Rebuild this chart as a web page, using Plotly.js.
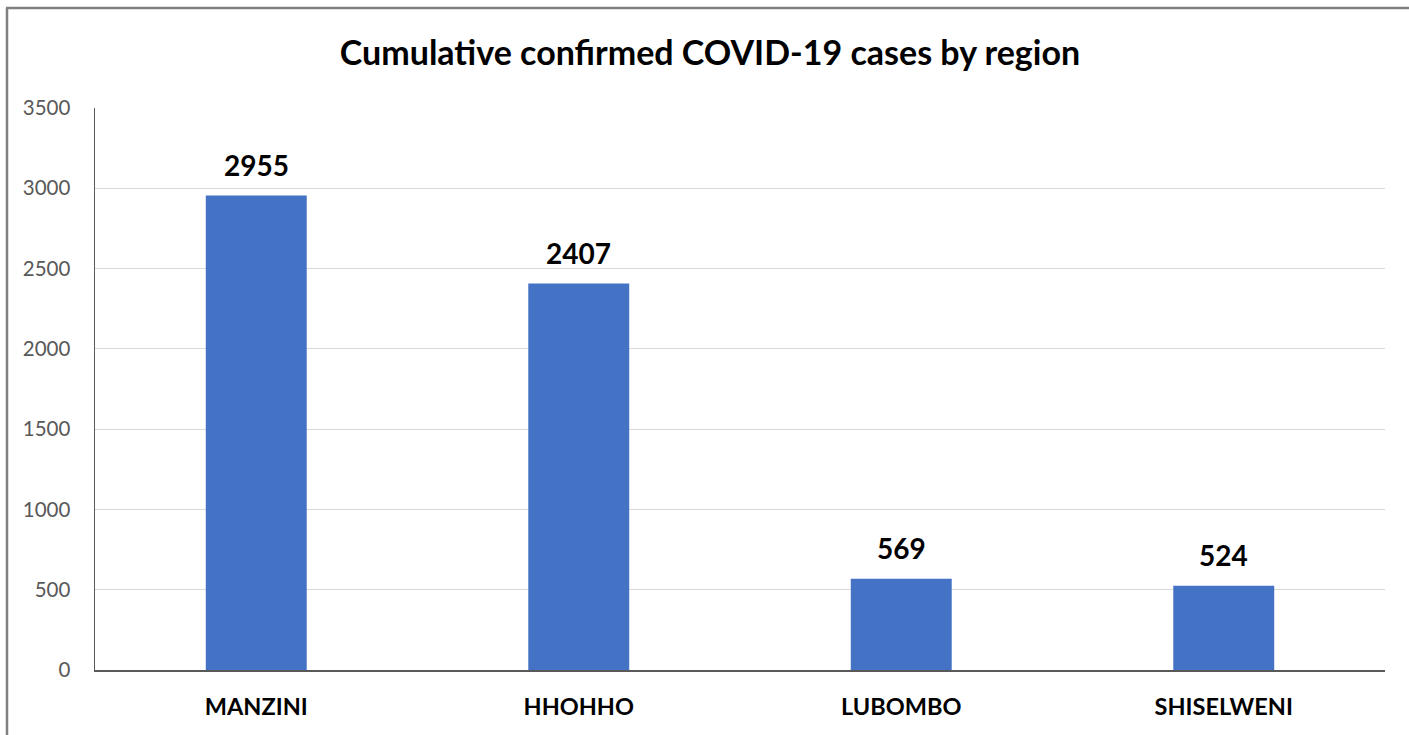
<!DOCTYPE html>
<html>
<head>
<meta charset="utf-8">
<script src="https://cdn.plot.ly/plotly-3.0.1.min.js"></script>
<style>
html,body{margin:0;padding:0;background:#fff;}
#chart{width:1409px;height:735px;}
</style>
</head>
<body>
<div id="chart"></div>
<script>
const regions = ["MANZINI", "HHOHHO", "LUBOMBO", "SHISELWENI"];
const cases = [2955, 2407, 569, 524];
const yTicks = [0, 500, 1000, 1500, 2000, 2500, 3000, 3500];
const chartTitle = "Cumulative confirmed COVID-19 cases by region";

const W = 1409, H = 735;
const mL = 95, mR = 24, mT = 108, mB = 65;
const pw = W - mL - mR, ph = H - mT - mB;
const px = v => (v - mL) / pw;
const py = v => (H - mB - v) / ph;
const FONT = "Lato, 'Open Sans', sans-serif";

const trace = {
  type: "bar",
  x: regions,
  y: cases,
  marker: {color: "#4472C4"},
  cliponaxis: false,
  hoverinfo: "x+y"
};

const labels = regions.map((r, i) => ({
  x: r, y: cases[i], xref: "x", yref: "y",
  text: "<b>" + cases[i] + "</b>",
  showarrow: false, yanchor: "bottom", yshift: 12,
  font: {family: FONT, size: 28, color: "#000"}
}));

const layout = {
  width: W, height: H,
  margin: {l: mL, r: mR, t: mT, b: mB},
  paper_bgcolor: "#fff",
  plot_bgcolor: "#fff",
  bargap: 0.687,
  showlegend: false,
  font: {family: FONT, color: "#595959"},
  title: {
    text: "<b>" + chartTitle + "</b>",
    font: {family: FONT, size: 34, color: "#000"},
    xref: "container", yref: "container",
    x: 710 / W, xanchor: "center",
    y: 1 - 53 / H, yanchor: "middle"
  },
  xaxis: {
    type: "category",
    showline: true, linecolor: "#595959", linewidth: 1.5,
    showgrid: false, ticks: "",
    tickfont: {family: FONT, size: 23.5, color: "#000", weight: "bold"},
    ticklabelstandoff: 15
  },
  yaxis: {
    range: [0, 3500],
    tickvals: yTicks,
    ticktext: yTicks.map(String),
    showline: true, linecolor: "#595959", linewidth: 1.5,
    showgrid: true, gridcolor: "#D9D9D9", gridwidth: 1,
    zeroline: false, ticks: "",
    tickfont: {family: FONT, size: 20.5, color: "#595959"},
    ticklabelstandoff: 19
  },
  annotations: labels,
  shapes: [
    {type: "line", xref: "paper", yref: "paper", x0: px(7), x1: px(7), y0: py(8), y1: py(745),
     line: {color: "#808080", width: 2.5}},
    {type: "line", xref: "paper", yref: "paper", x0: px(6), x1: px(1420), y0: py(8), y1: py(8),
     line: {color: "#808080", width: 2.5}}
  ]
};

Plotly.newPlot("chart", [trace], layout, {displayModeBar: false, staticPlot: true});
</script>
</body>
</html>
